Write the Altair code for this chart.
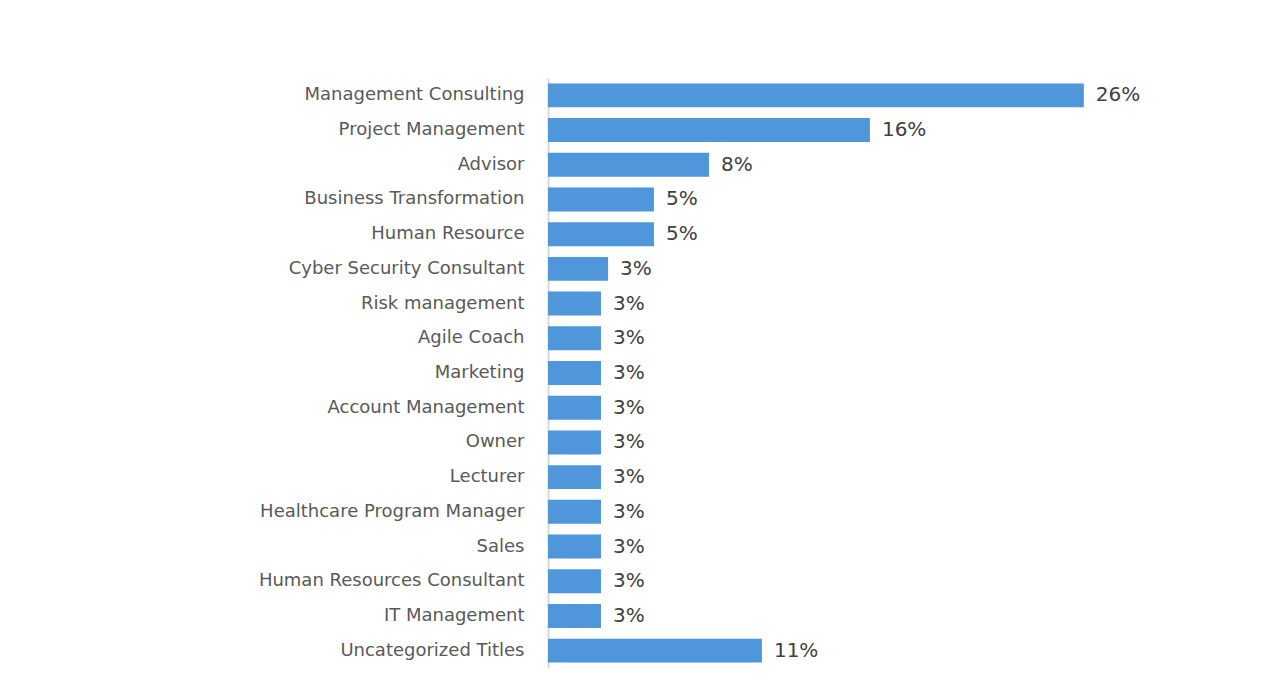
import altair as alt
import pandas as pd

categories = [
    "Management Consulting", "Project Management", "Advisor",
    "Business Transformation", "Human Resource", "Cyber Security Consultant",
    "Risk management", "Agile Coach", "Marketing", "Account Management",
    "Owner", "Lecturer", "Healthcare Program Manager", "Sales",
    "Human Resources Consultant", "IT Management", "Uncategorized Titles",
]
shares = [
    0.263, 0.158, 0.079, 0.052, 0.052, 0.0295,
    0.026, 0.026, 0.026, 0.026, 0.026, 0.026, 0.026, 0.026, 0.026, 0.026,
    0.105,
]

df = pd.DataFrame({"title": categories, "share": shares})

FONT = "DejaVu Sans"

y = alt.Y(
    "title:N",
    sort=categories,
    scale=alt.Scale(paddingInner=0.31, paddingOuter=0.155),
    axis=alt.Axis(
        title=None, ticks=False, domain=True, domainColor="#d9d9d9",
        domainWidth=2, labelFont=FONT, labelFontSize=18, grid=False,
        labelColor="#595959", labelPadding=24, labelLimit=400,
    ),
)
x = alt.X(
    "share:Q",
    scale=alt.Scale(domain=[0, 0.2945], nice=False),
    axis=None,
)

bars = alt.Chart(df).mark_bar(color="#4f96da").encode(x=x, y=y)
labels = alt.Chart(df).mark_text(
    align="left", baseline="middle", dx=12, font=FONT, fontSize=20,
    color="#404040",
).encode(x=x, y=y, text=alt.Text("share:Q", format=".0%"))

chart = (
    (bars + labels)
    .properties(
        width=600, height=590,
        background="white",
        autosize=alt.AutoSizeParams(type="none"),
        padding={"left": 540, "top": 70, "right": 100, "bottom": 10},
    )
    .configure_view(stroke="transparent", strokeWidth=0)
    .configure_axis(grid=False)
)

chart.save("out.html", embed_options={"renderer": "svg", "actions": False})
